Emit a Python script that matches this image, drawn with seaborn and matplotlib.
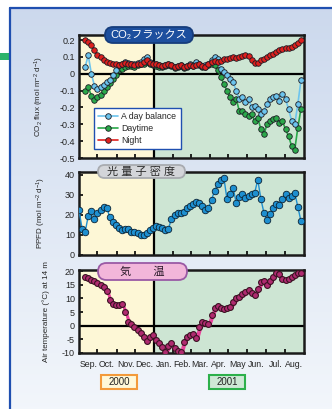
import numpy as np
import pandas as pd
import seaborn as sns
import matplotlib.pyplot as plt
from matplotlib.patches import FancyBboxPatch, Rectangle
from matplotlib.lines import Line2D
from matplotlib.transforms import offset_copy, IdentityTransform

sns.set_theme(style="ticks")
plt.rcParams['font.family'] = ['Liberation Sans', 'Noto Sans CJK JP', 'DejaVu Sans']
plt.rcParams['mathtext.default'] = 'regular'
plt.rcParams['axes.unicode_minus'] = False

# days counted from 1 Sep 2000
day_ppfd = np.arange(0, 365, 5)
day_flux = np.arange(10, 365, 5)
day_temp = np.arange(10, 365, 5)

balance = [0.04, 0.11, 0.0, -0.07, -0.09, -0.08, -0.065, -0.05, -0.04, -0.01,
           0.02, 0.05, 0.06, 0.07, 0.065, 0.06, 0.055, 0.065, 0.07, 0.09,
           0.1, 0.07, 0.06, 0.055, 0.05, 0.045, 0.05, 0.06, 0.05, 0.04,
           0.045, 0.05, 0.04, 0.045, 0.06, 0.05, 0.07, 0.06, 0.045, 0.05,
           0.06, 0.08, 0.1, 0.085, 0.03, 0.01, -0.01, -0.03, -0.05, -0.1,
           -0.15, -0.14, -0.17, -0.15, -0.2, -0.19, -0.21, -0.24, -0.22, -0.18,
           -0.15, -0.14, -0.13, -0.16, -0.12, -0.15, -0.21, -0.28, -0.3, -0.18,
           -0.04]
daytime = [-0.1, -0.08, -0.13, -0.155, -0.14, -0.125, -0.1, -0.08, -0.056, -0.03,
           -0.01, 0.02, 0.03, 0.04, 0.045, 0.045, 0.04, 0.05, 0.055, 0.06,
           0.07, 0.06, 0.05, 0.045, 0.04, 0.04, 0.045, 0.05, 0.045, 0.035,
           0.04, 0.045, 0.035, 0.04, 0.05, 0.045, 0.06, 0.05, 0.04, 0.04,
           0.05, 0.06, 0.05, 0.02, -0.02, -0.06, -0.1, -0.14, -0.17, -0.15,
           -0.22, -0.22, -0.24, -0.25, -0.24, -0.28, -0.26, -0.33, -0.36, -0.3,
           -0.28, -0.27, -0.26, -0.29, -0.28, -0.33, -0.37, -0.43, -0.45, -0.32,
           -0.21]
night = [0.2, 0.19, 0.17, 0.14, 0.11, 0.1, 0.08, 0.07, 0.065, 0.06,
         0.055, 0.05, 0.06, 0.065, 0.06, 0.055, 0.05, 0.06, 0.06, 0.07,
         0.08, 0.065, 0.06, 0.055, 0.05, 0.045, 0.05, 0.055, 0.05, 0.04,
         0.045, 0.05, 0.04, 0.045, 0.05, 0.045, 0.05, 0.055, 0.045, 0.042,
         0.055, 0.07, 0.075, 0.07, 0.075, 0.085, 0.09, 0.095, 0.1, 0.095,
         0.1, 0.105, 0.11, 0.105, 0.08, 0.065, 0.062, 0.08, 0.09, 0.1,
         0.11, 0.12, 0.13, 0.14, 0.145, 0.15, 0.155, 0.16, 0.17, 0.18,
         0.2]
ppfd = [22.4, 13.0, 11.5, 19.5, 22.0, 18.0, 21.0, 22.5, 24.0, 23.4,
        19.0, 16.5, 14.8, 13.5, 12.5, 13.0, 12.8, 11.7, 11.5, 10.8,
        10.2, 10.0, 10.9, 12.5, 13.5, 14.2, 13.8, 13.3, 12.5, 13.0,
        18.0, 20.0, 20.7, 21.0, 21.5, 23.5, 24.5, 25.5, 26.2, 26.0,
        24.5, 22.4, 23.5, 27.5, 32.0, 35.5, 37.5, 38.5, 28.0, 30.5,
        33.5, 26.0, 29.0, 30.5, 28.5, 29.5, 30.5, 31.0, 37.5, 28.0,
        21.0, 17.5, 20.5, 23.5, 25.5, 24.8, 28.0, 30.5, 28.5, 29.5,
        31.0, 24.0, 17.0]
temp = [17.8, 17.5, 16.8, 16.3, 15.8, 14.8, 14.0, 12.8, 9.5, 8.0,
        7.6, 7.4, 7.8, 5.0, 1.5, 0.5, -0.3, -1.5, -2.6, -4.0,
        -5.6, -4.2, -3.4, -5.2, -6.5, -7.9, -9.6, -7.5, -6.5, -8.3,
        -9.4, -9.8, -5.8, -4.0, -3.3, -3.0, -4.6, -0.5, 1.5, 1.0,
        0.5, 3.9, 6.5, 7.3, 6.4, 6.2, 6.4, 7.0, 8.6, 10.0,
        10.6, 11.5, 12.2, 13.1, 12.0, 11.4, 13.5, 16.0, 16.2, 15.0,
        16.5, 18.0, 19.3, 19.0, 17.2, 16.6, 17.2, 18.0, 18.6, 19.3,
        19.2]

month_edges = [0, 30, 61, 91, 122, 153, 181, 212, 242, 273, 303, 334, 365]
month_names = ['Sep.', 'Oct.', 'Nov.', 'Dec.', 'Jan.', 'Feb.', 'Mar.',
               'Apr.', 'May', 'Jun.', 'Jul.', 'Aug.']
new_year = 122

W, H = 332, 409
fig = plt.figure(figsize=(W / 100, H / 100), dpi=100)
fig.patch.set_facecolor('white')


def fx(px):
    return px / W


def fy(py):
    return 1 - py / H


# panel background
bg = fig.add_axes([fx(10), 0, 1 - fx(10), fy(8)], zorder=-5)
grad = np.linspace(0, 1, 256).reshape(-1, 1)
top = np.array([0.80, 0.85, 0.93])
bot = np.array([0.95, 0.965, 0.985])
img = top[None, None, :] * (1 - grad[:, :, None]) + bot[None, None, :] * grad[:, :, None]
bg.imshow(img, aspect='auto', extent=[0, 1, 0, 1])
bg.axis('off')
fig.add_artist(Line2D([fx(10), 1], [fy(8), fy(8)], color='#1f4fb0', lw=1.6))
fig.add_artist(Line2D([fx(10), fx(10)], [0, fy(8)], color='#1f4fb0', lw=1.6))
fig.add_artist(Rectangle((0, fy(60)), fx(9), fy(53) - fy(60), color='#2db36a', lw=0))

yellow = '#fdf7d6'
green = '#cde5d3'


def setup(ax, ylim, yticks, ylabels, zero=False, bottom=False):
    ax.axvspan(0, new_year, color=yellow, zorder=0, lw=0)
    ax.axvspan(new_year, 365, color=green, zorder=0, lw=0)
    ax.axvline(new_year, color='black', lw=1.6, zorder=1)
    if zero:
        ax.axhline(0, color='black', lw=1.6, zorder=1)
    ax.set_xlim(0, 365)
    ax.set_ylim(*ylim)
    ax.set_yticks(yticks)
    ax.set_yticklabels(ylabels)
    ax.set_xticks(month_edges[1:-1])
    ax.set_xticklabels([])
    if bottom:
        ax.set_xticks([(a + b) / 2 for a, b in zip(month_edges[:-1], month_edges[1:])], minor=True)
        ax.set_xticklabels(month_names, minor=True)
    ax.tick_params(axis='both', which='major', direction='in', length=3, width=1.2,
                   labelsize=6.5, pad=3, color='black')
    ax.tick_params(axis='x', which='minor', length=0, labelsize=6.3, pad=5)
    for s in ax.spines.values():
        s.set_linewidth(1.8)
        s.set_color('#1a1a1a')
    ax.set_xlabel('')


# CO2 flux
ax1 = fig.add_axes([fx(79), fy(158), 225 / W, 123 / H])
setup(ax1, (-0.5, 0.23), [-0.5, -0.4, -0.3, -0.2, -0.1, 0, 0.1, 0.2],
      ['-0.5', '-0.4', '-0.3', '-0.2', '-0.1', '0', '0.1', '0.2'], zero=True)
mk = dict(marker='o', markersize=4.0, markeredgecolor='#1c1c24', markeredgewidth=0.6,
          lw=1.2, zorder=3)
sns.lineplot(x=day_flux, y=daytime, color='#2aa84a', label='Daytime', ax=ax1, **mk)
sns.lineplot(x=day_flux, y=balance, color='#6cc4ee', label='A day balance', ax=ax1, **mk)
sns.lineplot(x=day_flux, y=night, color='#e0201e', label='Night', ax=ax1, **mk)
h, l = ax1.get_legend_handles_labels()
order = [l.index('A day balance'), l.index('Daytime'), l.index('Night')]
leg = ax1.legend([h[i] for i in order], [l[i] for i in order], loc='lower left',
                 bbox_to_anchor=(0.067, 0.07), borderaxespad=0, fontsize=6.3,
                 frameon=True, fancybox=False, handlelength=2.2, handletextpad=0.4,
                 labelspacing=0.35, borderpad=0.5)
leg.get_frame().set_edgecolor('#1f4fb0')
leg.get_frame().set_linewidth(1.0)
leg.get_frame().set_facecolor('white')
leg.get_frame().set_alpha(1)
ax1.set_ylabel('CO$_2$ flux (mol m$^{-2}$ d$^{-1}$)', fontsize=5.8)
ax1.yaxis.set_label_coords(-0.145, 0.5)

# PPFD
ax2 = fig.add_axes([fx(79), fy(255), 225 / W, 83.3 / H])
setup(ax2, (0, 41.5), [0, 10, 20, 30, 40], ['0', '10', '20', '30', '40'])
sns.lineplot(x=day_ppfd, y=ppfd, color='#1e8fd0', marker='o', markersize=4.7,
             markeredgecolor='#0b2436', markeredgewidth=0.6, lw=1.0, ax=ax2, zorder=3)
ax2.set_ylabel('PPFD (mol m$^{-2}$ d$^{-1}$)', fontsize=5.8)
ax2.yaxis.set_label_coords(-0.14, 0.5)

# Air temperature
ax3 = fig.add_axes([fx(79), fy(353), 225 / W, 83 / H])
setup(ax3, (-10, 20.4), [-10, -5, 0, 5, 10, 15, 20],
      ['-10', '-5', '0', '5', '10', '15', '20'], zero=True, bottom=True)
shadow = offset_copy(ax3.transData, fig=fig, x=1.5, y=-1.5, units='dots')
sns.lineplot(x=day_temp, y=temp, color='#e8409a', lw=2.0, ax=ax3, zorder=2,
             transform=shadow)
sns.lineplot(x=day_temp, y=temp, color='#e8409a', marker='o', markersize=4.2,
             markerfacecolor='#b02a70', markeredgecolor='#3a1222', markeredgewidth=0.8,
             lw=1.0, ax=ax3, zorder=3)
ax3.set_ylabel('Air temperature (°C) at 14 m', fontsize=5.8)
ax3.yaxis.set_label_coords(-0.13, 0.5)
for ax in (ax1, ax2, ax3):
    ax.set_xlim(0, 365)


# title badges, drawn in pixel units
def badge(x0, y0, x1, y1, text, face, edge, tcolor):
    p = FancyBboxPatch((x0, H - y1), x1 - x0, y1 - y0,
                       boxstyle='round,pad=0,rounding_size=%g' % ((y1 - y0) / 2),
                       transform=IdentityTransform(), facecolor=face, edgecolor=edge,
                       lw=1.3, zorder=10)
    fig.add_artist(p)
    fig.text(fx((x0 + x1) / 2), fy((y0 + y1) / 2), text, ha='center', va='center',
             fontsize=8, color=tcolor, zorder=11,
             family=['Liberation Sans', 'Noto Sans CJK JP', 'DejaVu Sans'])


badge(105, 27, 193, 43, 'CO₂フラックス', '#1d4f9e', '#163d7c', 'white')
badge(98, 165, 185, 178, '光 量 子 密 度', '#d3d5d9', '#a8abb0', '#2a2a2a')
badge(98, 263, 187, 280, '気　　温', '#f2b6da', '#9a5aa5', '#2a1a2a')


# year boxes
def yearbox(x0, x1, text, face, edge):
    fig.add_artist(Rectangle((fx(x0), fy(389)), fx(x1) - fx(x0), fy(375) - fy(389),
                             transform=fig.transFigure, facecolor=face, edgecolor=edge,
                             lw=1.5))
    fig.text(fx((x0 + x1) / 2), fy(382), text, ha='center', va='center', fontsize=7,
             color='#222222')


yearbox(101, 137, '2000', '#fff8d8', '#f39a3a')
yearbox(209, 245, '2001', '#cfe8d6', '#2db04b')

fig.savefig('out.png', dpi=100)
